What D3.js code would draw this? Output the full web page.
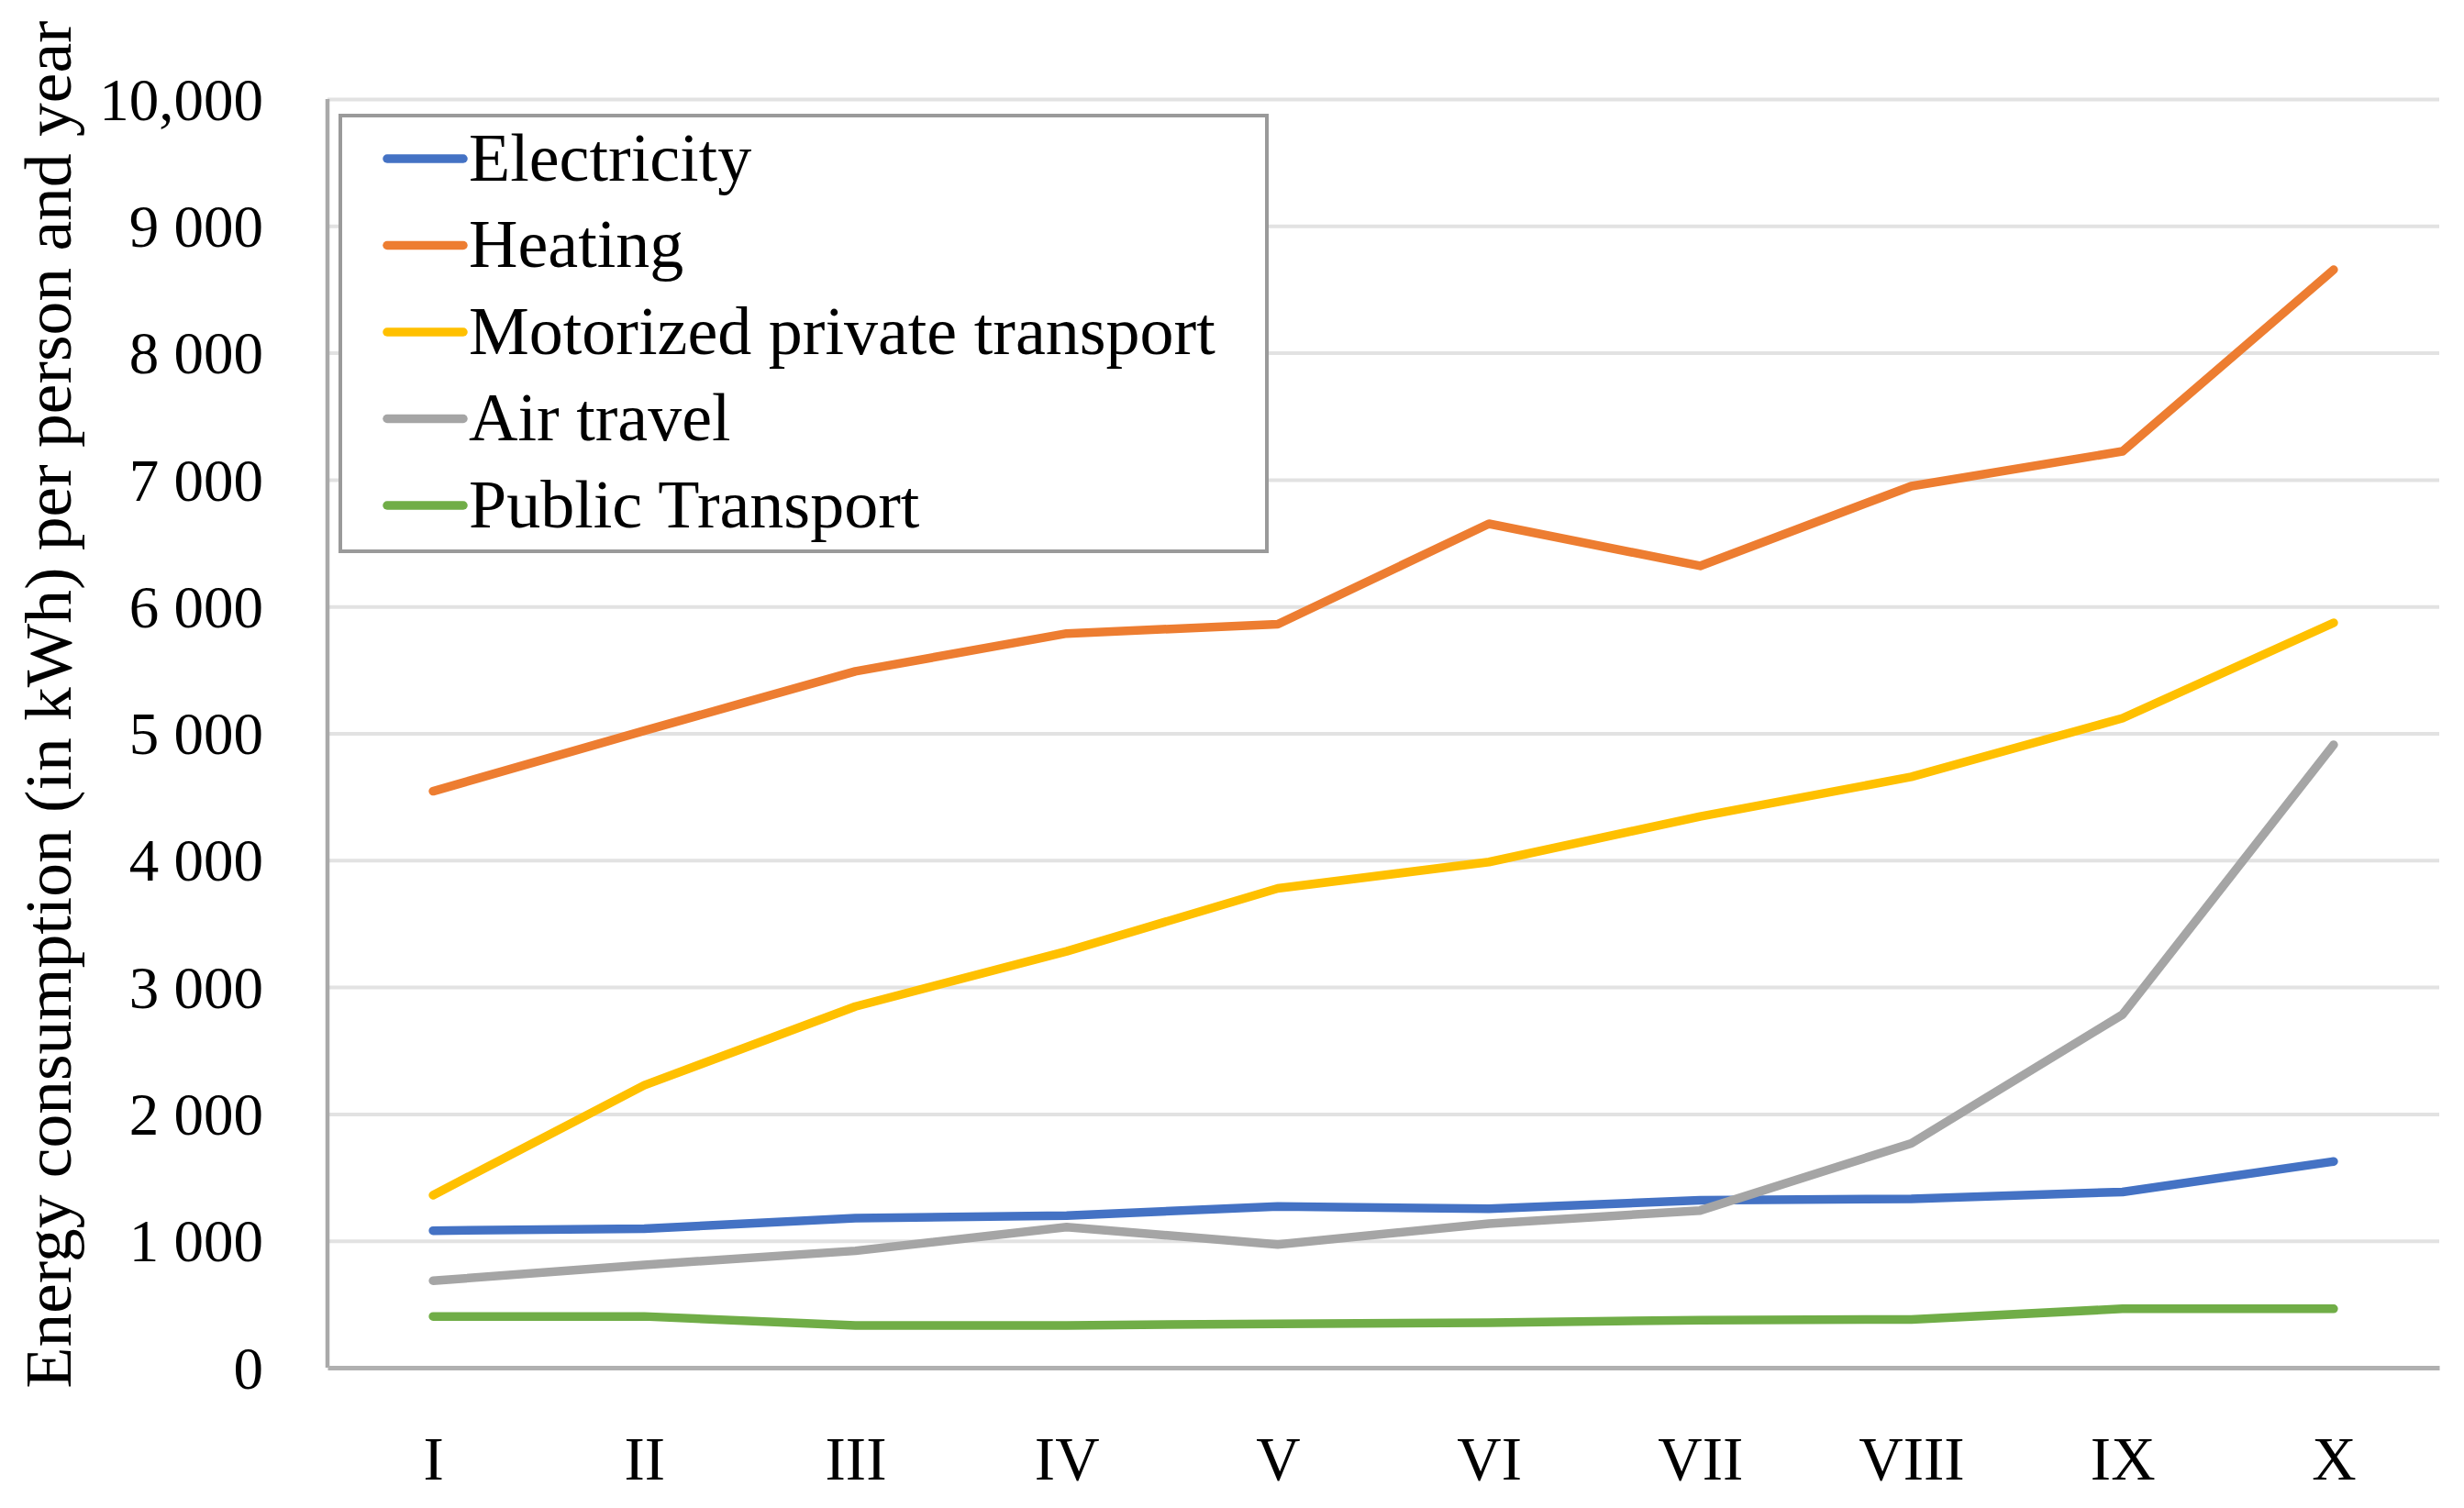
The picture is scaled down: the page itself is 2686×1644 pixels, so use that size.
<!DOCTYPE html>
<html>
<head>
<meta charset="utf-8">
<script src="https://cdn.jsdelivr.net/npm/d3@7"></script>
<style>
  body { margin: 0; background: #fff; }
  svg { display: block; }
  text { font-family: "Liberation Serif", "Times New Roman", serif; fill: #000; }
</style>
</head>
<body>
<svg></svg>
<script>
var categories = ['I', 'II', 'III', 'IV', 'V', 'VI', 'VII', 'VIII', 'IX', 'X']

var electricity = [1080, 1095, 1178, 1199, 1270, 1253, 1320, 1330, 1385, 1625]
var heating = [4544, 5021, 5489, 5787, 5861, 6652, 6320, 6949, 7223, 8655]
var motorized = [1360, 2226, 2847, 3282, 3778, 3986, 4345, 4657, 5119, 5871]
var airTravel = [685, 810, 921, 1108, 971, 1135, 1239, 1768, 2783, 4910]
var publicTransport = [404, 404, 333, 333, 346, 354, 375, 380, 464, 464]

var seriesNames = ['Electricity', 'Heating', 'Motorized private transport', 'Air travel', 'Public Transport']
var seriesColors = ['#4472C4', '#ED7D31', '#FFC000', '#A5A5A5', '#70AD47']

var yTickValues = [0, 1000, 2000, 3000, 4000, 5000, 6000, 7000, 8000, 9000, 10000]
var yTickLabels = ['0', '1 000', '2 000', '3 000', '4 000', '5 000', '6 000', '7 000', '8 000', '9 000', '10,000']

var yTitle = 'Energy consumption (in kWh) per person and year'

document.addEventListener("DOMContentLoaded", function() {
    drawChart([electricity, heating, motorized, airTravel, publicTransport])
});

function drawChart(allSeries) {
    // Set up shape of SVG
    var svgWidth = 2686, svgHeight = 1644;
    var margin = { top: 108, right: 27, bottom: 153, left: 357 };
    var width = svgWidth - margin.left - margin.right;
    var height = svgHeight - margin.top - margin.bottom;
    var svg = d3.select('svg')
        .attr("width", svgWidth)
        .attr("height", svgHeight);

    var g = svg.append("g")
        .attr("transform", "translate(" + margin.left + "," + margin.top + ")");

    // Scales
    var x = d3.scalePoint().domain(categories).range([0, width]).padding(0.5);
    var y = d3.scaleLinear().domain([0, 10000]).range([height, 0]);

    // Gridlines
    g.append("g")
        .call(d3.axisLeft(y).tickValues(yTickValues.slice(1)).tickSize(-width).tickFormat(''))
        .call(function(a) {
            a.select(".domain").remove();
            a.selectAll("line").attr("stroke", "#e2e2e2").attr("stroke-width", 4);
        });

    // Y axis labels
    g.append("g")
        .attr("transform", "translate(-70,0)")
        .call(d3.axisLeft(y).tickValues(yTickValues).tickSize(0)
            .tickFormat(function(d, i) { return yTickLabels[i]; }))
        .call(function(a) {
            a.select(".domain").remove();
            a.selectAll("text")
                .attr("font-size", "65px")
                .attr("x", 0)
                .attr("dy", "0.34em")
                .style("font-family", '"Liberation Serif", serif');
        });

    // Left axis line
    g.append("line")
        .attr("x1", 0).attr("x2", 0)
        .attr("y1", y(10000)).attr("y2", y(0))
        .attr("stroke", "#a9a9a9")
        .attr("stroke-width", 4.5);

    // X axis
    g.append("g")
        .attr("transform", "translate(0," + height + ")")
        .call(d3.axisBottom(x).tickSize(0).tickPadding(0))
        .call(function(a) {
            a.select(".domain")
                .attr("stroke", "#b0b0b0")
                .attr("stroke-width", 5);
            a.selectAll("text")
                .attr("font-size", "67px")
                .attr("y", 122)
                .attr("dy", 0)
                .style("font-family", '"Liberation Serif", serif');
        });

    // Y axis title
    svg.append("text")
        .attr("transform", "translate(77,768) rotate(-90)")
        .attr("text-anchor", "middle")
        .attr("font-size", "72px")
        .attr("textLength", 1491)
        .attr("lengthAdjust", "spacingAndGlyphs")
        .text(yTitle);

    // Series lines
    var line = d3.line()
        .x(function(d, idx) { return x(categories[idx]); })
        .y(function(d) { return y(d); });

    allSeries.forEach(function(data, i) {
        g.append("path")
            .datum(data)
            .attr("fill", "none")
            .attr("stroke", seriesColors[i])
            .attr("stroke-linejoin", "round")
            .attr("stroke-linecap", "round")
            .attr("stroke-width", 9.5)
            .attr("d", line);
    });

    // Legend
    var legend = svg.append("g").attr("transform", "translate(371,126)");
    legend.append("rect")
        .attr("width", 1010)
        .attr("height", 475)
        .attr("fill", "#fff")
        .attr("stroke", "#9a9a9a")
        .attr("stroke-width", 4);

    seriesNames.forEach(function(name, i) {
        var rowY = 47 + i * 94.5;
        legend.append("line")
            .attr("x1", 51).attr("x2", 134)
            .attr("y1", rowY).attr("y2", rowY)
            .attr("stroke", seriesColors[i])
            .attr("stroke-linecap", "round")
            .attr("stroke-width", 9.5);
        legend.append("text")
            .attr("x", 140)
            .attr("y", rowY)
            .attr("dy", "0.32em")
            .attr("font-size", "74px")
            .text(name);
    });
}
</script>
</body>
</html>
